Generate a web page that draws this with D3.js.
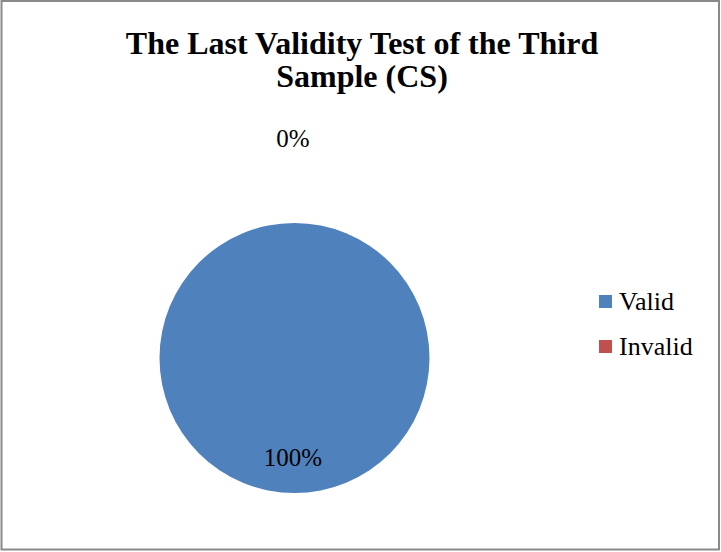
<!DOCTYPE html>
<html>
<head>
<meta charset="utf-8">
<script src="https://cdn.jsdelivr.net/npm/d3@7/dist/d3.min.js"></script>
<style>
  html, body { margin: 0; padding: 0; background: #fff; }
  svg { display: block; }
  text { font-family: "Liberation Serif", "Times New Roman", serif; fill: #000; }
</style>
</head>
<body>
<script>
const categories = ["Valid", "Invalid"];
const values = [100, 0];
const percentLabels = ["100%", "0%"];
const colors = ["#4F81BD", "#C0504D"];
const titleLines = ["The Last Validity Test of the Third", "Sample (CS)"];

const W = 721, H = 552;
const svg = d3.select("body").append("svg").attr("width", W).attr("height", H);

svg.append("rect")
  .attr("x", 1.5).attr("y", 1).attr("width", 717.5).attr("height", 548.5)
  .attr("fill", "#fff").attr("stroke", "#898989").attr("stroke-width", 2);

const title = svg.append("text")
  .attr("text-anchor", "middle")
  .style("font-size", "32px").style("font-weight", "bold");
titleLines.forEach((t, i) => {
  title.append("tspan").attr("x", 362).attr("y", 54 + i * 33).text(t);
});

const cx = 294.5, cy = 358, r = 135;
const g = svg.append("g").attr("transform", `translate(${cx},${cy})`);

const pie = d3.pie().sort(null).value(d => d.value).startAngle(0).endAngle(2 * Math.PI);
const data = categories.map((c, i) => ({ name: c, value: values[i], label: percentLabels[i], color: colors[i] }));
const arcs = pie(data);
const arc = d3.arc().innerRadius(0).outerRadius(r);

g.selectAll("path.slice").data(arcs).enter().append("path")
  .attr("class", "slice")
  .attr("d", arc)
  .attr("fill", d => d.data.color);

const labelRadius = [99, 220];
g.selectAll("text.lbl").data(arcs).enter().append("text")
  .attr("class", "lbl")
  .attr("text-anchor", "middle")
  .attr("dy", "0.35em")
  .style("font-size", "25px")
  .attr("transform", (d, i) => {
    const la = d3.arc().innerRadius(labelRadius[i]).outerRadius(labelRadius[i]);
    const [x, y] = la.centroid(d);
    return `translate(${x - 1.5},${y})`;
  })
  .text(d => d.data.label);

const legend = svg.append("g").attr("transform", "translate(599,295)");
const li = legend.selectAll("g").data(data).enter().append("g")
  .attr("transform", (d, i) => `translate(0,${i * 45})`);
li.append("rect").attr("width", 13).attr("height", 13).attr("fill", d => d.color);
li.append("text").attr("x", 20).attr("y", 15).style("font-size", "26px").text(d => d.name);
</script>
</body>
</html>
